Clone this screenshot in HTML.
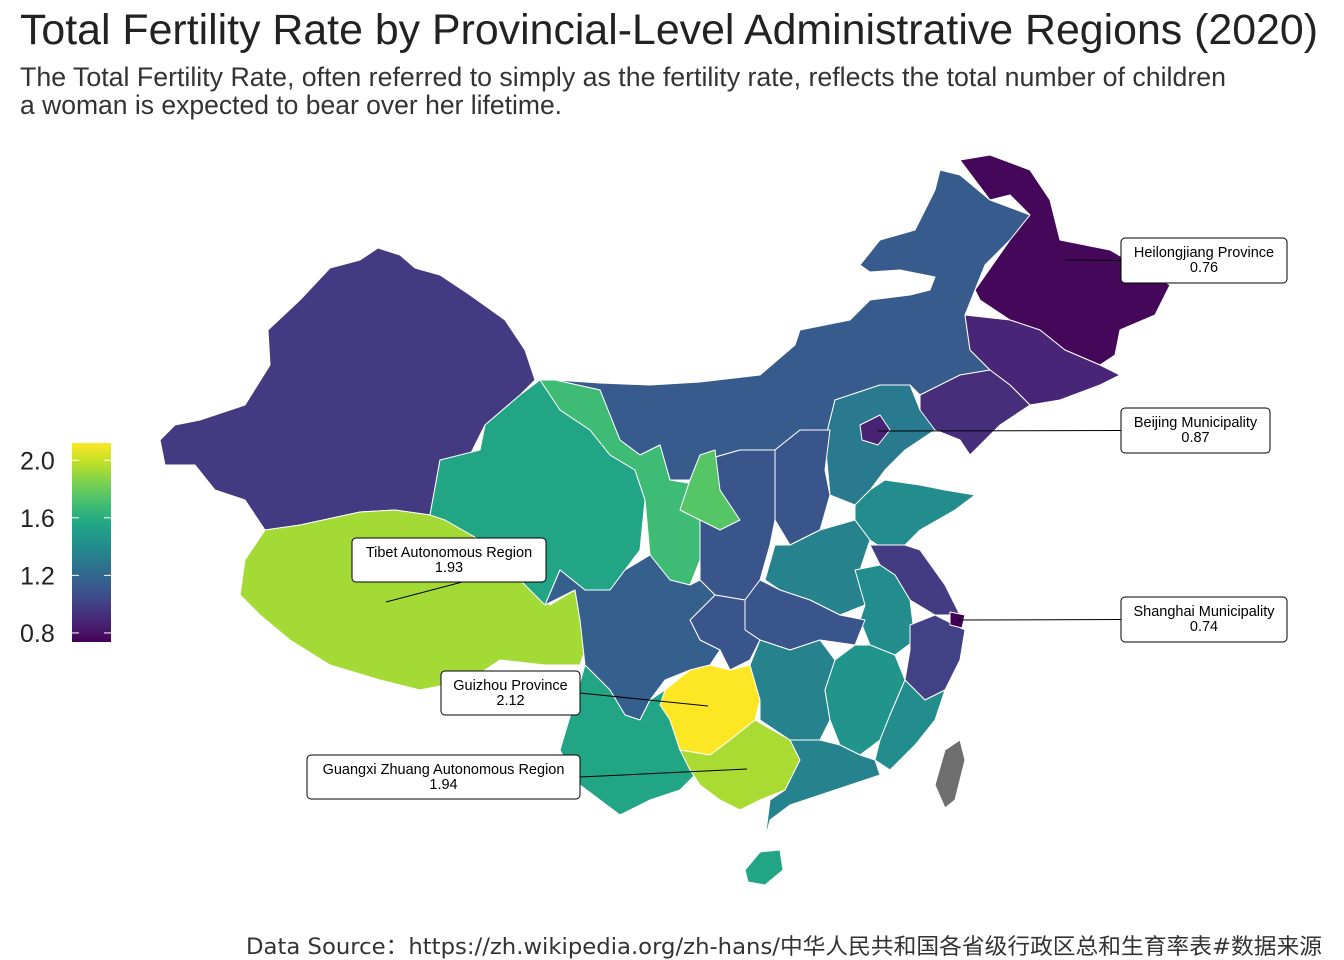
<!DOCTYPE html>
<html><head><meta charset="utf-8">
<style>
body{margin:0;background:#fff;width:1344px;height:960px;overflow:hidden;font-family:"Liberation Sans",sans-serif;}
svg{position:absolute;left:0;top:0}
</style></head>
<body>
<svg id="chart" width="1344" height="960">
<text x="20" y="44" font-size="42.5" fill="#222" textLength="1298" lengthAdjust="spacingAndGlyphs">Total Fertility Rate by Provincial-Level Administrative Regions (2020)</text>
<text x="20" y="86" font-size="26.5" fill="#333" textLength="1206" lengthAdjust="spacingAndGlyphs">The Total Fertility Rate, often referred to simply as the fertility rate, reflects the total number of children</text>
<text x="20" y="114" font-size="26.5" fill="#333">a woman is expected to bear over her lifetime.</text>
<defs><linearGradient id="vir" x1="0" y1="1" x2="0" y2="0">
<stop offset="0" stop-color="#440154"/><stop offset="0.1" stop-color="#482475"/><stop offset="0.2" stop-color="#414487"/><stop offset="0.3" stop-color="#355f8d"/><stop offset="0.4" stop-color="#2a788e"/><stop offset="0.5" stop-color="#21918c"/><stop offset="0.6" stop-color="#22a884"/><stop offset="0.7" stop-color="#44bf70"/><stop offset="0.8" stop-color="#7ad151"/><stop offset="0.9" stop-color="#bddf26"/><stop offset="1" stop-color="#fde725"/></linearGradient></defs>
<g id="map"></g>
<g id="legend">
<rect x="72" y="443" width="39" height="199" fill="url(#vir)"/>
</g>
<g id="labels"></g>
<text x="1322" y="954" text-anchor="end" font-size="22" fill="#333" textLength="1076" lengthAdjust="spacingAndGlyphs" font-family="'DejaVu Sans','Noto Sans CJK SC',sans-serif">Data Source：https://zh.wikipedia.org/zh-hans/中华人民共和国各省级行政区总和生育率表#数据来源</text>
</svg>
<script>
const provinces=["Inner Mongolia","Xinjiang","Tibet","Qinghai","Gansu","Heilongjiang","Jilin","Liaoning","Hebei","Shanxi","Shaanxi","Ningxia","Shandong","Henan","Jiangsu","Anhui","Zhejiang","Hubei","Chongqing","Sichuan","Yunnan","Guizhou","Guangxi","Hunan","Jiangxi","Fujian","Guangdong","Hainan","Beijing","Shanghai","Taiwan"];
const tfr=[1.13,0.97,1.93,1.55,1.68,0.76,0.88,0.92,1.3,1.1,1.1,1.75,1.4,1.35,0.98,1.4,1.0,1.1,1.1,1.15,1.55,2.12,1.94,1.35,1.45,1.4,1.35,1.55,0.87,0.74,null];
const legendTicks=[0.8,1.2,1.6,2.0];
const domain=[0.737,2.12];
const shapes={
"Inner Mongolia":"555,380 600,383 650,385 700,382 760,375 795,345 800,330 850,320 870,300 910,295 930,290 935,277 900,270 870,272 860,265 880,240 915,230 935,190 940,170 960,175 990,200 1030,215 1010,240 985,265 975,290 965,315 970,350 990,370 960,375 920,395 910,385 880,385 835,400 825,440 800,430 775,450 740,450 705,460 700,455 690,480 670,480 660,445 640,455 620,440 600,390",
"Xinjiang":"160,440 175,425 200,420 245,405 270,365 268,330 300,300 330,268 360,260 378,248 400,255 415,268 440,275 470,295 505,320 525,350 535,380 520,395 485,425 470,455 440,460 430,515 395,510 360,512 300,525 265,530 245,500 215,490 195,465 165,465",
"Tibet":"245,560 265,530 300,525 360,512 395,510 430,515 445,520 480,540 520,580 550,605 575,590 585,650 580,665 545,665 500,660 470,680 420,690 380,680 330,665 290,640 260,615 240,595",
"Qinghai":"430,515 440,460 480,450 485,425 520,395 540,380 555,380 560,410 590,430 610,455 635,470 645,500 640,550 625,570 610,590 585,590 560,570 545,605 520,580 480,540 445,520",
"Gansu":"540,380 555,380 600,390 620,440 640,455 660,445 670,480 700,485 700,560 690,585 670,580 650,555 645,500 635,470 610,455 590,430 560,410",
"Heilongjiang":"960,160 990,155 1030,170 1050,200 1060,240 1110,250 1170,285 1155,315 1120,330 1115,355 1100,365 1065,350 1040,330 1010,320 980,300 975,290 1010,240 1030,215 1010,195 990,200",
"Jilin":"965,315 1010,320 1040,330 1065,350 1100,365 1120,375 1100,385 1060,400 1030,405 1010,385 990,370 970,350",
"Liaoning":"920,395 960,375 990,370 1010,385 1030,405 1000,425 970,455 960,440 935,430 920,420",
"Hebei":"835,400 880,385 910,385 920,410 935,430 905,450 885,470 870,490 855,505 830,495 825,440",
"Shanxi":"775,450 800,430 830,430 825,470 830,495 820,530 790,545 775,520",
"Shaanxi":"705,460 740,450 775,450 775,520 770,545 760,580 745,600 715,595 700,580 700,485",
"Ningxia":"700,455 715,450 720,490 740,520 720,530 700,520 680,510 690,480",
"Shandong":"855,505 870,490 885,480 920,485 945,490 975,495 955,510 920,530 905,545 885,550 870,540 855,520",
"Henan":"775,545 790,545 820,530 855,520 870,540 860,570 865,605 840,615 810,600 780,590 765,580",
"Jiangsu":"870,545 905,545 920,550 945,585 960,615 935,615 910,600 895,575 880,565",
"Anhui":"855,570 880,565 895,575 910,600 915,640 895,655 870,645 860,620 865,605",
"Zhejiang":"910,625 935,615 965,630 960,660 945,690 925,700 905,680 910,650",
"Hubei":"745,600 760,580 780,590 810,600 840,615 865,620 855,645 820,640 790,650 760,640 745,630",
"Chongqing":"715,595 745,600 745,630 760,640 750,660 730,670 720,650 700,640 690,620",
"Sichuan":"560,570 585,590 610,590 625,570 650,555 670,580 690,585 700,580 715,595 690,620 700,640 720,650 710,665 690,670 665,680 650,700 640,720 625,715 610,690 585,665 580,620 575,590 545,605",
"Yunnan":"560,750 575,700 585,665 610,690 625,715 640,720 650,700 665,690 670,720 680,750 700,770 680,790 650,800 620,815 600,800 580,785 565,760",
"Guizhou":"665,690 690,670 710,665 730,670 750,665 760,700 755,720 730,740 710,755 680,750 670,720 660,705",
"Guangxi":"680,750 710,755 730,740 755,720 790,740 800,760 785,790 760,800 740,810 720,800 700,785 690,770",
"Hunan":"750,665 760,640 790,650 820,640 835,660 825,690 830,720 820,740 790,740 760,720 760,700",
"Jiangxi":"835,660 855,645 870,645 895,655 905,680 890,715 880,740 860,755 840,745 830,720 825,690",
"Fujian":"880,740 890,715 905,680 925,700 945,690 935,720 915,745 890,770 875,760",
"Guangdong":"790,740 820,740 840,745 860,755 875,760 880,775 850,785 820,795 790,805 770,820 765,840 770,800 785,790 800,760",
"Hainan":"745,870 760,852 780,850 783,870 765,885 748,882",
"Beijing":"860,425 880,415 890,430 878,445 862,440",
"Shanghai":"950,612 965,615 962,628 950,625",
"Taiwan":"945,750 960,740 965,760 955,800 945,808 935,785"};
const vir=["#440154","#482475","#414487","#355f8d","#2a788e","#21918c","#22a884","#44bf70","#7ad151","#bddf26","#fde725"];
function hex(h){return [1,3,5].map(i=>parseInt(h.substr(i,2),16));}
function color(v){
  if(v==null) return "#6e6e6e";
  let t=Math.max(0,Math.min(1,(v-domain[0])/(domain[1]-domain[0])))*10;
  let i=Math.min(9,Math.floor(t)),f=t-i;
  let a=hex(vir[i]),b=hex(vir[i+1]);
  return "rgb("+a.map((x,k)=>Math.round(x+(b[k]-x)*f)).join(",")+")";
}
function yScale(v){return 642-(v-domain[0])/(domain[1]-domain[0])*199;}
const NS="http://www.w3.org/2000/svg";
const map=document.getElementById("map");
provinces.forEach((p,i)=>{
  const el=document.createElementNS(NS,"polygon");
  el.setAttribute("points",shapes[p]);
  el.setAttribute("fill",color(tfr[i]));
  el.setAttribute("stroke","#fff");
  el.setAttribute("stroke-width","1");
  el.setAttribute("stroke-linejoin","round");
  
  
  map.appendChild(el);
});
const lg=document.getElementById("legend");
legendTicks.forEach(t=>{
  const y=yScale(t);
  [[72,79],[104,111]].forEach(([a,b])=>{
    const l=document.createElementNS(NS,"line");
    l.setAttribute("x1",a);l.setAttribute("x2",b);l.setAttribute("y1",y);l.setAttribute("y2",y);
    l.setAttribute("stroke","#fff");l.setAttribute("stroke-width","1");
    
    
    lg.appendChild(l);
  });
  const tx=document.createElementNS(NS,"text");
  tx.setAttribute("x",20);tx.setAttribute("y",y+9);tx.setAttribute("font-size","25");tx.setAttribute("fill","#222");
  tx.textContent=t.toFixed(1);
  
  
  lg.appendChild(tx);
});
const callouts=[
 ["Heilongjiang Province","Heilongjiang",1121,238,166,45,1065,260],
 ["Beijing Municipality","Beijing",1121,408,149,45,878,431],
 ["Shanghai Municipality","Shanghai",1121,597,166,45,958,620],
 ["Tibet Autonomous Region","Tibet",352,538,194,44,386,602],
 ["Guizhou Province","Guizhou",441,671,139,44,708,706],
 ["Guangxi Zhuang Autonomous Region","Guangxi",307,755,273,44,747,769]];
const lb=document.getElementById("labels");
callouts.forEach(c=>{
  const [name,prov,x,y,w,h,px,py]=c;
  const v=tfr[provinces.indexOf(prov)];
  const g=document.createElementNS(NS,"g");
  
  
  const ex=px<x?x:x+w;
  const ln=document.createElementNS(NS,"line");
  ln.setAttribute("x1",px);ln.setAttribute("y1",py);ln.setAttribute("x2",ex);ln.setAttribute("y2",y+h/2);
  ln.setAttribute("stroke","#000");ln.setAttribute("stroke-width","1");
  g.appendChild(ln);
  const r=document.createElementNS(NS,"rect");
  r.setAttribute("x",x);r.setAttribute("y",y);r.setAttribute("width",w);r.setAttribute("height",h);
  r.setAttribute("rx",4);r.setAttribute("fill","#fff");r.setAttribute("stroke","#000");
  g.appendChild(r);
  [name,v.toFixed(2)].forEach((s,k)=>{
    const t=document.createElementNS(NS,"text");
    t.setAttribute("x",x+w/2);t.setAttribute("y",y+19+k*15);t.setAttribute("text-anchor","middle");
    t.setAttribute("font-size","14.5");t.setAttribute("fill","#000");
    t.textContent=s;
    g.appendChild(t);
  });
  lb.appendChild(g);
});
</script>
</body></html>
